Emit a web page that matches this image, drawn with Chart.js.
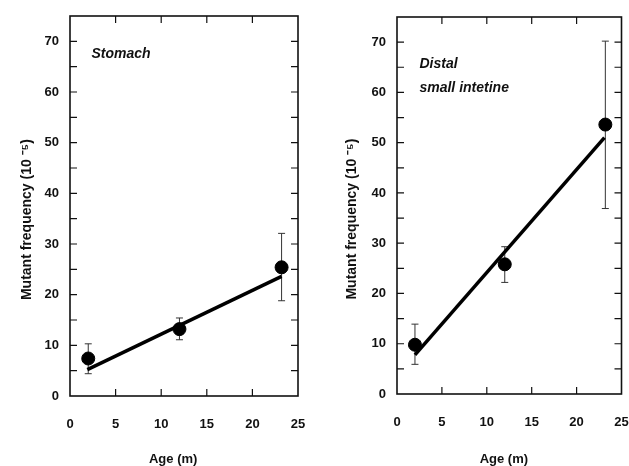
<!DOCTYPE html>
<html>
<head>
<meta charset="UTF-8">
<title>Mutant frequency vs age</title>
<script src="https://cdn.jsdelivr.net/npm/chart.js"></script>
<style>
    body { margin: 0; background: #fff; }
    canvas { position: absolute; top: 0; }
    #left { left: 0; }
    #right { left: 314px; }
</style>
</head>
<body>
<canvas id="left" width="314" height="466"></canvas>
<canvas id="right" width="315" height="466"></canvas>
<script>
// age in months
const ages = [2, 12, 23.2];

// stomach panel
const stomachMean = [7.4, 13.2, 25.4];
const stomachLow = [4.4, 11.1, 18.8];
const stomachHigh = [10.3, 15.4, 32.1];
const stomachFitX = [1.9, 23.2];
const stomachFitY = [5.2, 23.6];

// distal small intestine panel
const intestineMean = [9.8, 25.8, 53.6];
const intestineLow = [5.9, 22.2, 36.9];
const intestineHigh = [13.9, 29.3, 70.2];
const intestineFitX = [2.0, 23.1];
const intestineFitY = [7.8, 51.0];

const xTickLabels = [0, 5, 10, 15, 20, 25];
const yTickLabels = [0, 10, 20, 30, 40, 50, 60, 70];

const FONT = 'Liberation Sans, Arial, sans-serif';

// box with inward ticks on all four sides
const framePlugin = {
    id: 'frame',
    afterDraw(chart) {
        const { ctx, chartArea: a, scales: { x, y } } = chart;
        const len = 7;
        ctx.save();
        ctx.strokeStyle = '#111';
        ctx.lineWidth = 1.2;
        ctx.beginPath();
        x.ticks.forEach(t => {
            const px = x.getPixelForValue(t.value);
            if (px <= a.left + 1 || px >= a.right - 1) return;
            ctx.moveTo(px, a.bottom); ctx.lineTo(px, a.bottom - len);
            ctx.moveTo(px, a.top); ctx.lineTo(px, a.top + len);
        });
        y.ticks.forEach(t => {
            const py = y.getPixelForValue(t.value);
            if (py <= a.top + 1 || py >= a.bottom - 1) return;
            ctx.moveTo(a.left, py); ctx.lineTo(a.left + len, py);
            ctx.moveTo(a.right, py); ctx.lineTo(a.right - len, py);
        });
        ctx.stroke();
        ctx.lineWidth = 1.6;
        ctx.strokeRect(a.left, a.top, a.right - a.left, a.bottom - a.top);
        ctx.restore();
    }
};

// vertical error bars with small caps, drawn under the markers
const errorBarPlugin = {
    id: 'errorBars',
    beforeDatasetsDraw(chart) {
        const { ctx, scales: { y } } = chart;
        chart.data.datasets.forEach((ds, i) => {
            if (!ds.errLow) return;
            const meta = chart.getDatasetMeta(i);
            ctx.save();
            ctx.strokeStyle = '#333';
            ctx.lineWidth = 1;
            ctx.beginPath();
            meta.data.forEach((pt, j) => {
                const lo = y.getPixelForValue(ds.errLow[j]);
                const hi = y.getPixelForValue(ds.errHigh[j]);
                ctx.moveTo(pt.x, lo); ctx.lineTo(pt.x, hi);
                ctx.moveTo(pt.x - 3.5, lo); ctx.lineTo(pt.x + 3.5, lo);
                ctx.moveTo(pt.x - 3.5, hi); ctx.lineTo(pt.x + 3.5, hi);
            });
            ctx.stroke();
            ctx.restore();
        });
    }
};

function labelPlugin(lines, xVal, yVal) {
    return {
        id: 'panelLabel',
        afterDraw(chart) {
            const { ctx, scales: { x, y } } = chart;
            ctx.save();
            ctx.fillStyle = '#111';
            ctx.font = 'italic bold 14px ' + FONT;
            ctx.textBaseline = 'middle';
            lines.forEach((s, k) => {
                ctx.fillText(s, x.getPixelForValue(xVal), y.getPixelForValue(yVal - k * 4.8));
            });
            ctx.restore();
        }
    };
}

function makePanel(id, mean, low, high, fitX, fitY, label, lx, ly, geo) {
    const ctx = document.getElementById(id).getContext('2d');
    return new Chart(ctx, {
        data: {
            datasets: [{
                type: 'line',
                data: fitX.map((v, i) => ({ x: v, y: fitY[i] })),
                borderColor: '#000',
                borderWidth: 3.5,
                pointRadius: 0,
                fill: false
            }, {
                type: 'scatter',
                data: ages.map((v, i) => ({ x: v, y: mean[i] })),
                backgroundColor: '#000',
                borderColor: '#000',
                pointRadius: 6.5,
                errLow: low,
                errHigh: high
            }]
        },
        options: {
            responsive: false,
            animation: false,
            devicePixelRatio: 1,
            layout: { padding: { left: 0, right: geo.right, top: geo.top, bottom: 0 } },
            plugins: { legend: { display: false }, tooltip: { enabled: false } },
            scales: {
                x: {
                    type: 'linear',
                    min: 0, max: 25,
                    afterFit: s => { s.height = geo.xh; s.paddingLeft = 0; s.paddingRight = 0; },
                    afterBuildTicks: s => { s.ticks = xTickLabels.map(v => ({ value: v })); },
                    grid: { display: false, drawTicks: false },
                    border: { display: false },
                    ticks: { color: '#111', padding: 21, maxRotation: 0,
                             font: { family: FONT, weight: 'bold', size: 13 } },
                    title: { display: true, text: 'Age (m)' + geo.xpad, color: '#111',
                             padding: { top: 0, bottom: 0 },
                             font: { family: FONT, weight: 'bold', size: 13, lineHeight: 1 } }
                },
                y: {
                    type: 'linear',
                    min: 0, max: 75,
                    afterFit: s => { s.width = geo.yw; s.paddingTop = 0; s.paddingBottom = 0; },
                    ticks: { stepSize: 5, color: '#111', padding: 11,
                             callback: v => yTickLabels.includes(v) ? v : '',
                             font: { family: FONT, weight: 'bold', size: 13 } },
                    grid: { display: false, drawTicks: false },
                    border: { display: false },
                    title: { display: true, text: 'Mutant frequency (10 \u207B\u2075)       ', color: '#111',
                             padding: { top: geo.ytp, bottom: 0 },
                             font: { family: FONT, weight: 'bold', size: 14 } }
                }
            }
        },
        plugins: [errorBarPlugin, framePlugin, labelPlugin(label, lx, ly)]
    });
}

makePanel('left', stomachMean, stomachLow, stomachHigh, stomachFitX, stomachFitY,
    ['Stomach'], 2.35, 67.4,
    { right: 16, top: 16, xh: 70, yw: 70, ytp: 18.5, xpad: '      ' });

makePanel('right', intestineMean, intestineLow, intestineHigh, intestineFitX, intestineFitY,
    ['Distal', 'small intetine'], 2.5, 65.6,
    { right: 5, top: 17, xh: 72, yw: 83, ytp: 30, xpad: '   ' });
</script>
</body>
</html>
